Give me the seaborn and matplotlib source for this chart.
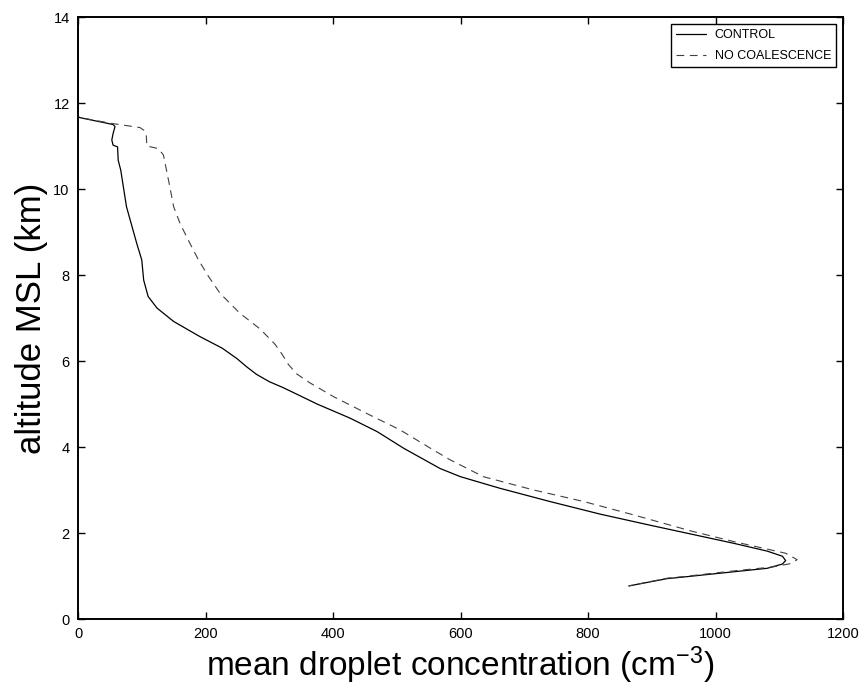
import matplotlib
matplotlib.use("Agg")
import matplotlib.pyplot as plt
import seaborn as sns
import pandas as pd

# ---- data ----
control_conc = [0, 0, 3, 55, 58, 55, 53, 55, 62, 63, 67, 76, 92, 100, 103, 110, 124,
                150, 191, 226, 249, 265, 280, 300, 322, 350, 375, 427, 469, 511, 568,
                600, 662, 741, 819, 898, 976, 1029, 1081, 1105, 1110, 1105, 1081, 1029,
                945, 924, 864]
control_alt = [14.0, 11.68, 11.66, 11.50, 11.45, 11.29, 11.14, 11.02, 10.98, 10.67, 10.44,
               9.59, 8.74, 8.35, 7.88, 7.50, 7.23, 6.92, 6.57, 6.30, 6.06, 5.86, 5.69,
               5.52, 5.38, 5.18, 5.00, 4.67, 4.36, 3.97, 3.50, 3.31, 3.04, 2.73, 2.44,
               2.18, 1.93, 1.76, 1.58, 1.46, 1.36, 1.28, 1.18, 1.10, 0.97, 0.94, 0.77]

nocoal_conc = [0, 0, 3, 55, 97, 105, 107, 108, 126, 134, 142, 150, 160, 173, 189, 205,
               223, 254, 286, 309, 320, 330, 343, 364, 401, 453, 505, 553, 584, 636, 715,
               794, 872, 961, 1029, 1110, 1128, 1118, 1089, 1029, 945, 924, 864]
nocoal_alt = [14.0, 11.68, 11.66, 11.52, 11.43, 11.35, 11.26, 11.0, 10.94, 10.79, 10.2,
              9.59, 9.20, 8.81, 8.35, 7.96, 7.57, 7.11, 6.74, 6.39, 6.16, 5.92, 5.70,
              5.49, 5.17, 4.78, 4.40, 3.97, 3.70, 3.31, 3.0, 2.73, 2.42, 2.05, 1.80,
              1.53, 1.38, 1.29, 1.21, 1.12, 0.98, 0.95, 0.77]

series_names = ["CONTROL", "NO COALESCENCE"]
x_ticks = [0, 200, 400, 600, 800, 1000, 1200]
y_ticks = [0, 2, 4, 6, 8, 10, 12, 14]

sns.set_theme(style="white")
plt.rcParams["font.family"] = ["Liberation Sans", "DejaVu Sans"]
plt.rcParams["mathtext.fontset"] = "custom"
plt.rcParams["mathtext.rm"] = "Liberation Sans"
plt.rcParams["mathtext.default"] = "regular"
plt.rcParams["text.color"] = "black"
plt.rcParams["axes.labelcolor"] = "black"

fig = plt.figure(figsize=(8.65, 6.94), dpi=100)
fig.subplots_adjust(left=0.0902, right=0.9746, bottom=0.108, top=0.9755)
ax = fig.add_subplot(111)

df_c = pd.DataFrame({"conc": control_conc, "alt": control_alt})
df_n = pd.DataFrame({"conc": nocoal_conc, "alt": nocoal_alt})

sns.lineplot(data=df_c, x="conc", y="alt", sort=False, estimator=None, ax=ax,
             color="black", linewidth=0.9, label=series_names[0])
sns.lineplot(data=df_n, x="conc", y="alt", sort=False, estimator=None, ax=ax,
             color="#404040", linewidth=0.8, label=series_names[1])
ax.lines[1].set_dashes((7, 5))

ax.set_xlim(0, 1200)
ax.set_ylim(0, 14)
ax.set_xticks(x_ticks)
ax.set_yticks(y_ticks)
ax.set_xticklabels([str(t) for t in x_ticks])
ax.set_yticklabels([str(t) for t in y_ticks])
ax.tick_params(direction="in", length=5, width=1.0, colors="black", labelsize=10.5,
               top=True, right=True, bottom=True, left=True, pad=6)

for s in ax.spines.values():
    s.set_visible(True)
    s.set_color("black")
    s.set_linewidth(1.4)

ax.set_xlabel("mean droplet concentration (cm$^{-3}$)", fontsize=24, labelpad=2)
ax.set_ylabel("altitude MSL (km)", fontsize=25, labelpad=4)

leg = ax.legend(loc="upper right", fontsize=9, frameon=True, fancybox=False,
                borderaxespad=0.55, handlelength=2.4, labelspacing=0.75,
                borderpad=0.4, handletextpad=0.7)
leg.get_frame().set_edgecolor("black")
leg.get_frame().set_linewidth(1.0)
leg.get_frame().set_alpha(1)
for t in leg.get_texts():
    t.set_color("black")

fig.savefig("out.png", dpi=100)
